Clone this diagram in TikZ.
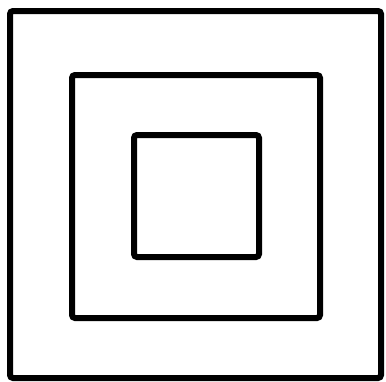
\documentclass[tikz,border=0pt]{standalone}
\begin{document}
\begin{tikzpicture}[x=1pt,y=-1pt,
  sq/.style={draw=black,line width=6pt,rounded corners=3pt}]
\useasboundingbox (0,0) rectangle (386,381);
\fill[white] (0,0) rectangle (386,381);
\draw[sq] (10,11) rectangle (381,378);
\draw[sq] (72,75) rectangle (320,318);
\draw[sq] (134,135) rectangle (259,257);
\end{tikzpicture}
\end{document}
